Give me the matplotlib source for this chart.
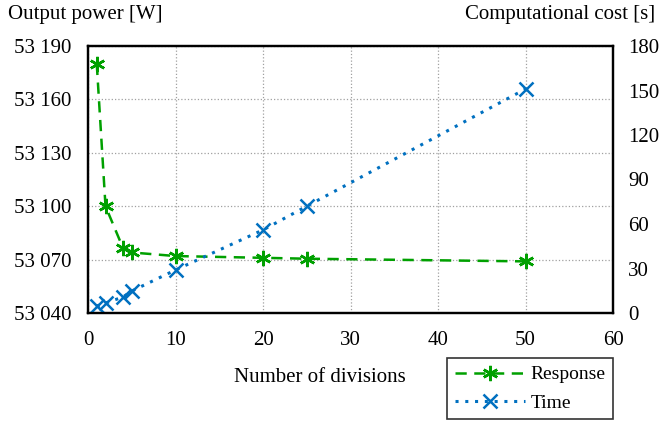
import matplotlib.pyplot as plt
from matplotlib.ticker import FuncFormatter, MultipleLocator

plt.rcParams['font.family'] = 'Liberation Serif'
plt.rcParams['font.size'] = 15

# data
divisions = [1, 2, 4, 5, 10, 20, 25, 50]
response = [53180, 53100, 53076.5, 53074, 53072, 53071, 53070.5, 53069]
time_s = [4.7, 6.7, 10.8, 14.8, 29, 56, 72, 151]

green = '#00a000'
blue = '#0070c0'

fig = plt.figure(figsize=(6.59, 4.21), dpi=100)
ax = fig.add_axes([88 / 659, 1 - 313 / 421, (613 - 88) / 659, (313 - 46) / 421])
ax2 = ax.twinx()

l1, = ax.plot(divisions, response, linestyle=(0, (4.5, 3)), color=green, lw=1.8,
              marker=(6, 2, 0), markersize=11, markeredgewidth=1.8, label='Response')
l2, = ax2.plot(divisions, time_s, linestyle=(0, (1, 2.2)), color=blue, lw=2.2,
               marker='x', markersize=10, markeredgewidth=1.8, label='Time')

ax.set_xlim(0, 60)
ax.set_ylim(53040, 53190)
ax2.set_ylim(0, 180)
ax.xaxis.set_major_locator(MultipleLocator(10))
ax.yaxis.set_major_locator(MultipleLocator(30))
ax2.yaxis.set_major_locator(MultipleLocator(30))
ax.yaxis.set_major_formatter(FuncFormatter(lambda v, p: f"{int(v):,}".replace(',', ' ')))

ax.grid(True, color='#a0a0a0', linestyle=':', linewidth=0.9)
ax.set_axisbelow(True)
for a in (ax, ax2):
    a.tick_params(length=0)
    for s in a.spines.values():
        s.set_linewidth(1.6)
        s.set_color('black')
ax.tick_params(axis='x', pad=13)
ax.tick_params(axis='y', pad=12)
ax2.tick_params(axis='y', pad=11)

fig.text(8 / 659, 1 - 15 / 421, 'Output power [W]', ha='left', va='center')
fig.text(655 / 659, 1 - 15 / 421, 'Computational cost [s]', ha='right', va='center')
fig.text(320 / 659, 1 - 377 / 421, 'Number of divisions', ha='center', va='center')

leg = fig.legend(handles=[l1, l2], loc='upper left', bbox_to_anchor=(447 / 659, 1 - 358 / 421),
                 frameon=True, fancybox=False, edgecolor='black', handlelength=3.6,
                 borderpad=0.4, labelspacing=0.55, fontsize=14, handletextpad=0.3,
                 borderaxespad=0)
leg.get_frame().set_linewidth(1.2)

fig.savefig('out.png', dpi=100)
